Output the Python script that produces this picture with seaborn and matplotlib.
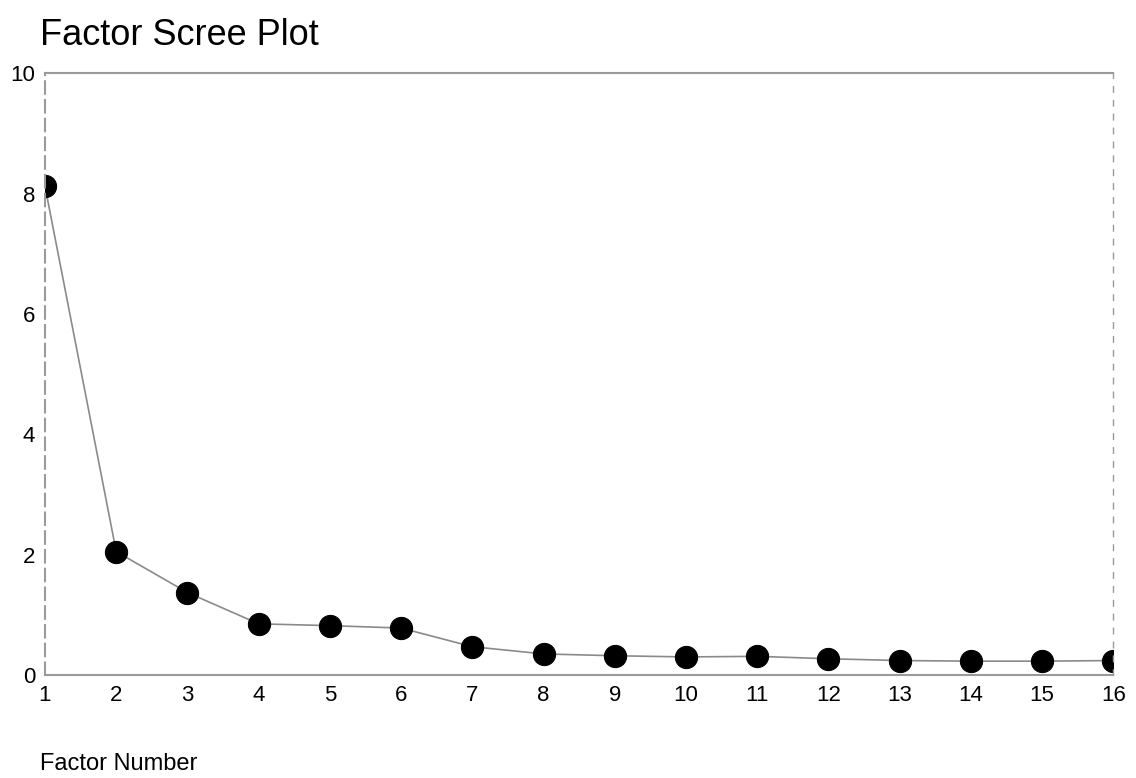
import pandas as pd
import matplotlib.pyplot as plt
import seaborn as sns

# eigenvalues
factor_number = list(range(1, 17))
eigenvalue = [8.12, 2.05, 1.37, 0.85, 0.82, 0.78, 0.47, 0.35,
              0.32, 0.30, 0.31, 0.27, 0.24, 0.23, 0.23, 0.24]
y_ticks = [0, 2, 4, 6, 8, 10]

df = pd.DataFrame({'factor': factor_number, 'eigenvalue': eigenvalue})

sns.set_style("white")
plt.rcParams['font.family'] = ['Liberation Sans', 'DejaVu Sans']
plt.rcParams['text.color'] = 'black'
plt.rcParams['xtick.color'] = 'black'
plt.rcParams['ytick.color'] = 'black'

fig = plt.figure(figsize=(11.36, 7.78), dpi=100)
ax = fig.add_axes([0.0396, 0.1324, 0.9404, 0.7736])

sns.lineplot(data=df, x='factor', y='eigenvalue', ax=ax, color='#8a8a8a',
             linewidth=1.2, marker='o', markersize=16, markerfacecolor='black',
             markeredgecolor='black', clip_on=True)

ax.set_xlim(1, 16)
ax.set_ylim(0, 10)
ax.set_xticks(factor_number)
ax.set_yticks(y_ticks)
ax.tick_params(axis='both', which='major', labelsize=16, length=4,
               width=1, color='#777777', labelcolor='black', pad=3)
ax.set_xlabel('')
ax.set_ylabel('')

# scanned-looking frame
for side in ['left', 'right', 'top', 'bottom']:
    ax.spines[side].set_visible(True)
    ax.spines[side].set_color('#9a9a9a')
    ax.spines[side].set_linewidth(1.5)
ax.spines['left'].set_linestyle((0, (6, 3)))
ax.spines['right'].set_linestyle((0, (4, 6)))
ax.spines['right'].set_linewidth(1.0)

fig.text(0.035, 0.955, 'Factor Scree Plot', fontsize=26, ha='left', va='center', color='black')
fig.text(0.035, 0.004, 'Factor Number', fontsize=17, ha='left', va='bottom', color='black')

fig.savefig('out.png', dpi=100)
